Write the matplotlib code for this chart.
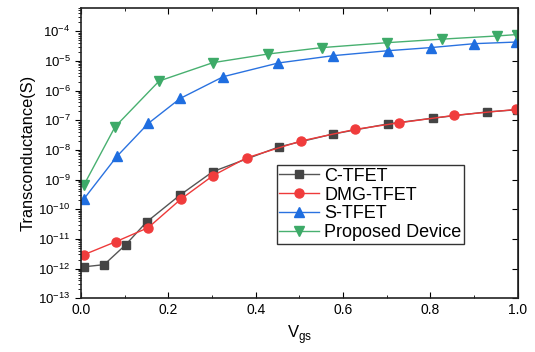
import numpy as np
import matplotlib
matplotlib.use('Agg')
import matplotlib.pyplot as plt
from matplotlib.ticker import LogLocator, MultipleLocator, NullFormatter

plt.rcParams['font.family'] = ['Liberation Sans', 'DejaVu Sans']

# C-TFET
x_c = [0.007, 0.053, 0.102, 0.150, 0.226, 0.302, 0.453, 0.576, 0.702, 0.805, 0.929, 0.998]
y_c = [1.15e-12, 1.36e-12, 6.3e-12, 3.7e-11, 2.95e-10, 1.86e-9, 1.26e-8, 3.4e-8,
       7.5e-8, 1.17e-7, 1.9e-7, 2.25e-7]

# DMG-TFET
x_d = [0.007, 0.080, 0.154, 0.228, 0.302, 0.379, 0.504, 0.627, 0.729, 0.853, 0.995]
y_d = [2.95e-12, 8.1e-12, 2.4e-11, 2.15e-10, 1.35e-9, 5.4e-9, 2.0e-8, 4.9e-8,
       8.2e-8, 1.45e-7, 2.3e-7]

# S-TFET
x_s = [0.007, 0.082, 0.154, 0.227, 0.326, 0.452, 0.578, 0.703, 0.801, 0.901, 0.995]
y_s = [2.26e-10, 6.0e-9, 7.8e-8, 5.4e-7, 2.94e-6, 8.5e-6, 1.5e-5, 2.2e-5,
       2.8e-5, 3.8e-5, 4.3e-5]

# Proposed Device
x_p = [0.007, 0.078, 0.179, 0.302, 0.428, 0.552, 0.701, 0.827, 0.952, 0.998]
y_p = [6.7e-10, 6.0e-8, 2.1e-6, 8.7e-6, 1.7e-5, 2.8e-5, 4.1e-5, 5.4e-5, 6.9e-5, 7.7e-5]

fig = plt.figure(figsize=(5.35, 3.52), dpi=100)
ax = fig.add_axes([0.1514, 0.1526, 0.8163, 0.8244])

ax.plot(x_c, y_c, color='#555555', marker='s', markersize=6, mfc='#444444', mec='#444444',
        lw=1, label='C-TFET')
ax.plot(x_d, y_d, color='#ee3a3a', marker='o', markersize=6.5, mfc='#f03c3c', mec='#f03c3c',
        lw=1, label='DMG-TFET')
ax.plot(x_s, y_s, color='#2a72e0', marker='^', markersize=7, mfc='#1f6ee0', mec='#1f6ee0',
        lw=1, label='S-TFET')
ax.plot(x_p, y_p, color='#48b070', marker='v', markersize=7, mfc='#3daa68', mec='#3daa68',
        lw=1, label='Proposed Device')

ax.set_yscale('log')
ax.set_xlim(0, 1.0)
ax.set_ylim(1e-13, 6e-4)

ax.xaxis.set_major_locator(MultipleLocator(0.2))
ax.xaxis.set_minor_locator(MultipleLocator(0.1))
ax.yaxis.set_major_locator(LogLocator(base=10, numticks=20))
ax.yaxis.set_minor_locator(LogLocator(base=10, subs=np.arange(2, 10), numticks=20))
ax.yaxis.set_minor_formatter(NullFormatter())

ax.tick_params(axis='x', which='both', direction='in', top=True, labelsize=10)
ax.tick_params(axis='x', which='major', length=4)
ax.tick_params(axis='x', which='minor', length=2.5)
ax.tick_params(axis='y', which='major', direction='out', length=4, labelsize=9.5)
ax.tick_params(axis='y', which='minor', direction='out', length=2)

# right side: major ticks only, pointing in
ay = ax.secondary_yaxis('right')
ay.set_yscale('log')
ay.yaxis.set_major_locator(LogLocator(base=10, numticks=20))
ay.yaxis.set_minor_locator(LogLocator(base=10, subs=[], numticks=20))
ay.tick_params(axis='y', which='major', direction='in', length=4, labelright=False)

for sp in ax.spines.values():
    sp.set_linewidth(1.2)
    sp.set_color('#222222')

ax.set_ylabel('Transconductance(S)', fontsize=11.8, labelpad=2)
ax.set_xlabel(r'V$_{\mathdefault{gs}}$', fontsize=12, labelpad=4)

leg = ax.legend(loc='upper left', bbox_to_anchor=(0.448, 0.459), fontsize=13,
                frameon=True, fancybox=False, edgecolor='black', borderpad=0.15,
                labelspacing=0.1, handlelength=2.2, handletextpad=0.3, borderaxespad=0)
leg.get_frame().set_linewidth(1.0)

fig.savefig('out.png', dpi=100)
